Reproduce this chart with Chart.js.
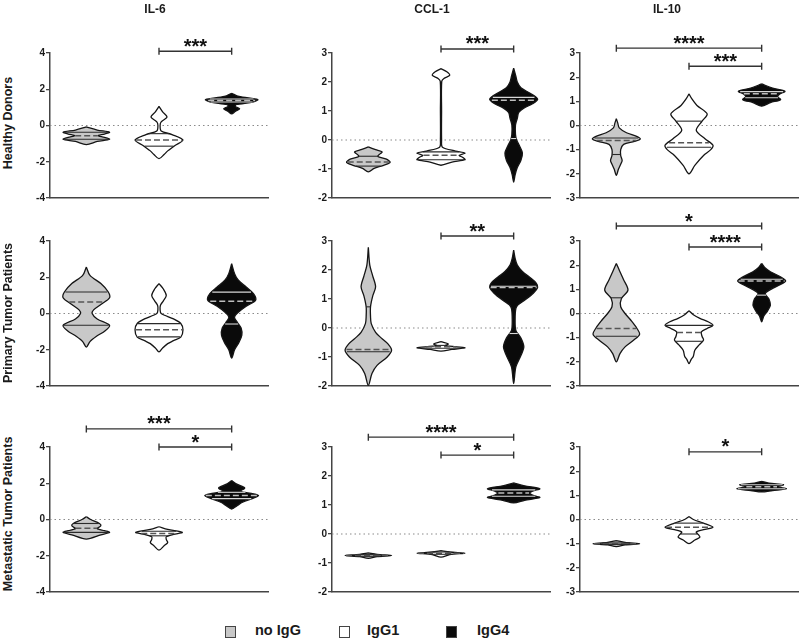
<!DOCTYPE html>
<html>
<head>
<meta charset="utf-8">
<script src="https://cdn.jsdelivr.net/npm/chart.js@4.4.1/dist/chart.umd.min.js"></script>
<style>
  body { margin: 0; background: #fff; font-family: "Liberation Sans", Arial, sans-serif; }
  #wrap { position: relative; width: 800px; height: 643px; overflow: hidden; }
  #wrap canvas { position: absolute; }
  .lbl { position: absolute; font-weight: bold; font-size: 12px; color: #1a1a1a; white-space: nowrap; transform: translate(-50%, -50%); }
  .rot { font-size: 12.5px; transform: translate(-50%, -50%) rotate(-90deg); }
  .leg { position: absolute; font-weight: bold; font-size: 14.5px; color: #1a1a1a; top: 622px; }
  .sq { position: absolute; width: 9px; height: 10px; border: 1px solid #444; top: 626px; }
</style>
</head>
<body>
<div id="wrap"></div>
<script>
'use strict';
const groups = ['no IgG', 'IgG1', 'IgG4'];
const cytokines = ['IL-6', 'CCL-1', 'IL-10'];
const cohorts = ['Healthy Donors', 'Primary Tumor Patients', 'Metastatic Tumor Patients'];

// y tick labels per cytokine column
const ticksIL6 = [-4, -2, 0, 2, 4];
const ticksCCL1 = [-2, -1, 0, 1, 2, 3];
const ticksIL10 = [-3, -2, -1, 0, 1, 2, 3];

// violin density profiles: [value, relative density] from top tip to bottom tip,
// one profile per group (no IgG, IgG1, IgG4)
const il6HD = [
    [[-0.08, 0], [-0.25, 0.15], [-0.37, 0.32], [-0.47, 0.25], [-0.56, 0.16], [-0.65, 0.25], [-0.76, 0.32], [-0.88, 0.15], [-1.05, 0]],
    [[1.05, 0], [0.75, 0.05], [0.46, 0.11], [0.2, 0.03], [0.0, 0.015], [-0.3, 0.03], [-0.5, 0.18], [-0.8, 0.33], [-1.1, 0.22], [-1.4, 0.12], [-1.6, 0.07], [-1.83, 0]],
    [[1.78, 0], [1.6, 0.1], [1.43, 0.36], [1.3, 0.3], [1.15, 0.06], [1.05, 0.05], [0.92, 0.11], [0.78, 0.05], [0.64, 0]]
];
const ccl1HD = [
    [[-0.24, 0], [-0.33, 0.1], [-0.41, 0.19], [-0.5, 0.15], [-0.57, 0.13], [-0.66, 0.25], [-0.77, 0.3], [-0.88, 0.2], [-0.98, 0.08], [-1.1, 0]],
    [[2.46, 0], [2.35, 0.08], [2.23, 0.12], [2.12, 0.04], [2.02, 0.01], [1.0, 0.008], [0.0, 0.008], [-0.25, 0.02], [-0.38, 0.2], [-0.45, 0.33], [-0.53, 0.25], [-0.6, 0.3], [-0.68, 0.33], [-0.76, 0.15], [-0.87, 0]],
    [[2.48, 0], [2.2, 0.03], [2.0, 0.05], [1.8, 0.1], [1.62, 0.22], [1.41, 0.33], [1.25, 0.26], [1.1, 0.14], [0.95, 0.07], [0.75, 0.05], [0.52, 0.025], [0.2, 0.025], [0.0, 0.04], [-0.2, 0.08], [-0.45, 0.12], [-0.7, 0.1], [-0.95, 0.05], [-1.2, 0.02], [-1.45, 0]]
];
const il10HD = [
    [[0.28, 0], [0.1, 0.02], [-0.1, 0.04], [-0.3, 0.14], [-0.45, 0.28], [-0.56, 0.33], [-0.66, 0.25], [-0.78, 0.1], [-1.0, 0.06], [-1.24, 0.06], [-1.45, 0.08], [-1.6, 0.06], [-1.8, 0.03], [-2.06, 0]],
    [[1.31, 0], [1.1, 0.04], [0.83, 0.11], [0.48, 0.25], [0.18, 0.18], [-0.2, 0.1], [-0.55, 0.22], [-0.82, 0.33], [-1.0, 0.3], [-1.24, 0.2], [-1.65, 0.08], [-2.0, 0]],
    [[1.72, 0], [1.55, 0.15], [1.42, 0.32], [1.3, 0.25], [1.2, 0.22], [1.07, 0.26], [0.95, 0.12], [0.8, 0]]
];
const il6PTP = [
    [[2.57, 0], [2.1, 0.05], [1.65, 0.2], [1.2, 0.3], [0.87, 0.32], [0.5, 0.2], [0.2, 0.1], [0.0, 0.08], [-0.3, 0.15], [-0.65, 0.32], [-0.95, 0.26], [-1.26, 0.14], [-1.55, 0.05], [-1.85, 0]],
    [[1.65, 0], [1.35, 0.06], [1.0, 0.1], [0.7, 0.06], [0.45, 0.02], [0.2, 0.015], [0.0, 0.03], [-0.3, 0.2], [-0.55, 0.3], [-0.9, 0.33], [-1.3, 0.3], [-1.5, 0.2], [-1.66, 0.12], [-1.9, 0.05], [-2.12, 0]],
    [[2.75, 0], [2.2, 0.04], [1.85, 0.09], [1.46, 0.2], [1.1, 0.3], [0.74, 0.33], [0.4, 0.2], [0.1, 0.1], [-0.1, 0.05], [-0.25, 0.04], [-0.5, 0.08], [-0.8, 0.13], [-1.2, 0.14], [-1.6, 0.1], [-2.0, 0.04], [-2.46, 0]]
];
const ccl1PTP = [
    [[2.78, 0], [2.17, 0.02], [1.8, 0.06], [1.42, 0.1], [1.1, 0.06], [0.73, 0.03], [0.4, 0.03], [0.15, 0.04], [-0.15, 0.1], [-0.35, 0.18], [-0.55, 0.27], [-0.77, 0.32], [-1.0, 0.26], [-1.29, 0.12], [-1.57, 0.05], [-1.98, 0]],
    [[-0.47, 0], [-0.55, 0.1], [-0.61, 0.06], [-0.68, 0.33], [-0.74, 0.15], [-0.8, 0]],
    [[2.69, 0], [2.4, 0.02], [2.17, 0.05], [1.95, 0.12], [1.75, 0.22], [1.55, 0.31], [1.4, 0.33], [1.2, 0.27], [0.96, 0.15], [0.8, 0.06], [0.67, 0.03], [0.3, 0.02], [-0.08, 0.03], [-0.35, 0.1], [-0.65, 0.14], [-0.95, 0.1], [-1.34, 0.03], [-1.92, 0]]
];
const il10PTP = [
    [[2.07, 0], [1.73, 0.05], [1.4, 0.1], [0.97, 0.16], [0.62, 0.07], [0.28, 0.06], [0.0, 0.12], [-0.28, 0.2], [-0.6, 0.28], [-0.86, 0.32], [-1.1, 0.24], [-1.38, 0.12], [-1.66, 0.05], [-2.0, 0]],
    [[0.11, 0], [-0.05, 0.06], [-0.2, 0.15], [-0.35, 0.27], [-0.49, 0.33], [-0.62, 0.25], [-0.76, 0.17], [-0.95, 0.18], [-1.1, 0.2], [-1.3, 0.14], [-1.52, 0.08], [-1.77, 0.06], [-1.9, 0.03], [-2.07, 0]],
    [[2.07, 0], [1.88, 0.05], [1.73, 0.12], [1.5, 0.27], [1.35, 0.33], [1.2, 0.26], [1.04, 0.15], [0.83, 0.05], [0.6, 0.1], [0.34, 0.12], [0.1, 0.08], [-0.1, 0.03], [-0.35, 0]]
];
const il6MTP = [
    [[0.15, 0], [0.0, 0.06], [-0.22, 0.18], [-0.35, 0.2], [-0.5, 0.15], [-0.62, 0.25], [-0.71, 0.32], [-0.85, 0.2], [-1.08, 0]],
    [[-0.4, 0], [-0.55, 0.12], [-0.71, 0.32], [-0.82, 0.2], [-0.95, 0.1], [-1.1, 0.1], [-1.27, 0.12], [-1.45, 0.07], [-1.69, 0]],
    [[2.15, 0], [1.95, 0.07], [1.74, 0.18], [1.56, 0.12], [1.42, 0.3], [1.32, 0.37], [1.18, 0.3], [0.95, 0.15], [0.75, 0.07], [0.58, 0]]
];
const ccl1MTP = [
    [[-0.65, 0], [-0.7, 0.12], [-0.74, 0.32], [-0.78, 0.12], [-0.84, 0]],
    [[-0.57, 0], [-0.62, 0.12], [-0.66, 0.33], [-0.71, 0.12], [-0.8, 0]],
    [[1.76, 0], [1.66, 0.15], [1.56, 0.36], [1.48, 0.26], [1.41, 0.22], [1.34, 0.26], [1.26, 0.36], [1.16, 0.15], [1.07, 0]]
];
const il10MTP = [
    [[-0.87, 0], [-0.95, 0.12], [-1.0, 0.32], [-1.05, 0.12], [-1.12, 0]],
    [[0.12, 0], [0.0, 0.06], [-0.15, 0.2], [-0.32, 0.33], [-0.42, 0.2], [-0.52, 0.1], [-0.63, 0.13], [-0.73, 0.15], [-0.85, 0.08], [-1.0, 0]],
    [[1.58, 0], [1.5, 0.1], [1.44, 0.3], [1.36, 0.22], [1.27, 0.34], [1.2, 0.15], [1.14, 0]]
];

// quartiles per group: [Q1, median, Q3]
const il6HDQ = [[-0.76, -0.56, -0.37], [-1.14, -0.8, -0.45], [1.3, 1.38, 1.46]];
const ccl1HDQ = [[-0.9, -0.76, -0.56], [-0.68, -0.53, -0.41], [0.05, 1.37, 1.47]];
const il10HDQ = [[-1.2, -0.62, -0.52], [-0.9, -0.71, 0.18], [1.15, 1.31, 1.4]];
const il6PTPQ = [[-0.65, 0.64, 1.19], [-1.29, -0.89, -0.56], [-0.58, 0.68, 1.18]];
const ccl1PTPQ = [[-0.82, -0.74, 0.73], [-0.7, -0.65, -0.6], [-0.19, 1.4, 1.44]];
const il10PTPQ = [[-0.94, -0.62, 0.65], [-1.15, -0.79, -0.49], [0.76, 1.35, 1.42]];
const il6MTPQ = [[-0.71, -0.48, -0.22], [-0.9, -0.77, -0.65], [1.15, 1.32, 1.5]];
const ccl1MTPQ = [[-0.77, -0.74, -0.71], [-0.7, -0.66, -0.62], [1.3, 1.41, 1.52]];
const il10MTPQ = [[-1.03, -1.0, -0.97], [-0.6, -0.32, -0.15], [1.27, 1.36, 1.44]];

// significance: [group a, group b, bracket level, stars]
const il6HDSig = [[1, 2, 4.1, '***']];
const ccl1HDSig = [[1, 2, 3.14, '***']];
const il10HDSig = [[0, 2, 3.2, '****'], [1, 2, 2.45, '***']];
const il6PTPSig = [];
const ccl1PTPSig = [[1, 2, 3.17, '**']];
const il10PTPSig = [[0, 2, 3.62, '*'], [1, 2, 2.75, '****']];
const il6MTPSig = [[0, 2, 5.0, '***'], [1, 2, 4.0, '*']];
const ccl1MTPSig = [[0, 2, 3.34, '****'], [1, 2, 2.72, '*']];
const il10MTPSig = [[1, 2, 2.8, '*']];

const fillColors = ['#c8c8c8', '#ffffff', '#0a0a0a'];
const innerColors = ['#2a2a2a', '#2a2a2a', '#d8d8d8'];
const medianColors = ['#555555', '#555555', '#bdbdbd'];
const FONT = '"Liberation Sans", Arial, sans-serif';

const colLeft = [50, 332, 580];
const rowTop = [53, 241, 447];
const plotW = 218, plotH = 145;
const axisW = 30, padTop = 40, padRight = 6, padBottom = 10;

const wrap = document.getElementById('wrap');

function widthAt(profile, v) {
    for (let i = 0; i < profile.length - 1; i++) {
        const [y0, w0] = profile[i];
        const [y1, w1] = profile[i + 1];
        if (v <= y0 && v >= y1) {
            return w0 + (w1 - w0) * (y0 - v) / (y0 - y1);
        }
    }
    return 0;
}

function outline(profile, c) {
    const right = profile.map(p => ({x: c + p[1], y: p[0]}));
    const left = profile.slice(1, -1).reverse().map(p => ({x: c - p[1], y: p[0]}));
    return right.concat(left, [right[0]]);
}

function bracketsPlugin(list) {
    return {
        id: 'brackets',
        afterDatasetsDraw(chart) {
            const {ctx} = chart;
            const sx = chart.scales.x, sy = chart.scales.y;
            ctx.save();
            ctx.strokeStyle = '#333';
            ctx.lineWidth = 1.4;
            ctx.fillStyle = '#111';
            ctx.font = 'bold 20px ' + FONT;
            ctx.textAlign = 'center';
            ctx.textBaseline = 'alphabetic';
            list.forEach(([a, b, lvl, stars]) => {
                const x0 = sx.getPixelForValue(a);
                const x1 = sx.getPixelForValue(b);
                const py = sy.getPixelForValue(lvl);
                ctx.beginPath();
                ctx.moveTo(x0, py - 3.5); ctx.lineTo(x0, py + 3.5);
                ctx.moveTo(x0, py); ctx.lineTo(x1, py);
                ctx.moveTo(x1, py - 3.5); ctx.lineTo(x1, py + 3.5);
                ctx.stroke();
                ctx.fillText(stars, (x0 + x1) / 2, py + 1.5);
            });
            ctx.restore();
        }
    };
}

function drawPanel(row, col, violins, quartiles, sig, ticks) {
    const canvas = document.createElement('canvas');
    const w = axisW + plotW + padRight;
    const h = padTop + plotH + padBottom;
    canvas.width = w;
    canvas.height = h;
    canvas.style.left = (colLeft[col] - axisW) + 'px';
    canvas.style.top = (rowTop[row] - padTop) + 'px';
    wrap.appendChild(canvas);

    const datasets = [{
        data: [{x: -0.5, y: 0}, {x: 2.5, y: 0}],
        showLine: true,
        borderColor: '#8a8a8a',
        borderWidth: 1.2,
        borderDash: [1.5, 3],
        pointRadius: 0,
        order: 20
    }];
    violins.forEach((profile, g) => {
        datasets.push({
            data: outline(profile, g),
            showLine: true,
            fill: 'shape',
            backgroundColor: fillColors[g],
            borderColor: '#151515',
            borderWidth: 1.3,
            tension: 0.3,
            pointRadius: 0,
            clip: false,
            order: 10
        });
        quartiles[g].forEach((q, k) => {
            const hw = widthAt(profile, q) * 0.96;
            datasets.push({
                data: [{x: g - hw, y: q}, {x: g + hw, y: q}],
                showLine: true,
                borderColor: k === 1 ? medianColors[g] : innerColors[g],
                borderWidth: k === 1 ? 1.5 : 1.1,
                borderDash: k === 1 ? [6, 3] : [],
                pointRadius: 0,
                clip: false,
                order: 1
            });
        });
    });

    new Chart(canvas, {
        type: 'scatter',
        data: {datasets: datasets},
        options: {
            responsive: false,
            animation: false,
            events: [],
            devicePixelRatio: 1,
            layout: {padding: {top: padTop, right: padRight, bottom: padBottom, left: 0}},
            plugins: {legend: {display: false}, tooltip: {enabled: false}},
            scales: {
                x: {
                    type: 'linear',
                    min: -0.5,
                    max: 2.5,
                    ticks: {display: false},
                    grid: {display: false, drawTicks: false},
                    border: {display: true, color: '#444', width: 1.5},
                    afterFit: s => { s.height = 0; }
                },
                y: {
                    type: 'linear',
                    min: ticks[0],
                    max: ticks[ticks.length - 1],
                    ticks: {
                        stepSize: ticks[1] - ticks[0],
                        color: '#1a1a1a',
                        padding: 1,
                        font: {family: FONT, size: 10, weight: 'bold'}
                    },
                    grid: {drawOnChartArea: false, drawTicks: true, tickLength: 4, color: '#444', lineWidth: 1.3},
                    border: {display: true, color: '#444', width: 1.5},
                    afterFit: s => { s.width = axisW; }
                }
            }
        },
        plugins: [bracketsPlugin(sig)]
    });
}

const tickSets = [ticksIL6, ticksCCL1, ticksIL10];
const panels = [
    [[il6HD, il6HDQ, il6HDSig], [ccl1HD, ccl1HDQ, ccl1HDSig], [il10HD, il10HDQ, il10HDSig]],
    [[il6PTP, il6PTPQ, il6PTPSig], [ccl1PTP, ccl1PTPQ, ccl1PTPSig], [il10PTP, il10PTPQ, il10PTPSig]],
    [[il6MTP, il6MTPQ, il6MTPSig], [ccl1MTP, ccl1MTPQ, ccl1MTPSig], [il10MTP, il10MTPQ, il10MTPSig]]
];
panels.forEach((cols, r) => {
    cols.forEach((p, c) => drawPanel(r, c, p[0], p[1], p[2], tickSets[c]));
});

function addLabel(text, x, y, cls) {
    const d = document.createElement('div');
    d.className = cls;
    d.textContent = text;
    d.style.left = x + 'px';
    d.style.top = y + 'px';
    wrap.appendChild(d);
}
const titleX = [155, 432, 667];
cytokines.forEach((t, i) => addLabel(t, titleX[i], 9, 'lbl'));
const cohortY = [123, 313, 514];
cohorts.forEach((t, i) => addLabel(t, 8, cohortY[i], 'lbl rot'));

// legend
const legSq = [225, 339, 446];
const legTx = [255, 367, 477];
groups.forEach((g, i) => {
    const sq = document.createElement('div');
    sq.className = 'sq';
    sq.style.left = legSq[i] + 'px';
    sq.style.background = fillColors[i];
    wrap.appendChild(sq);
    const t = document.createElement('div');
    t.className = 'leg';
    t.textContent = g;
    t.style.left = legTx[i] + 'px';
    wrap.appendChild(t);
});
</script>
</body>
</html>
